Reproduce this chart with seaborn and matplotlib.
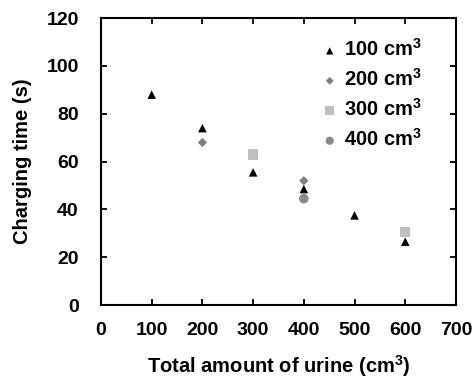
import matplotlib
matplotlib.use("Agg")
import matplotlib.pyplot as plt
import seaborn as sns
import pandas as pd

# Data
series = ["100 cm$^3$", "200 cm$^3$", "300 cm$^3$", "400 cm$^3$"]
x_100 = [100, 200, 300, 400, 500, 600]
y_100 = [88, 74, 55.5, 48.5, 37.5, 26.5]
x_200 = [200, 400]
y_200 = [68, 52]
x_300 = [300, 600]
y_300 = [63, 30.5]
x_400 = [400]
y_400 = [44.5]

xs = [x_100, x_200, x_300, x_400]
ys = [y_100, y_200, y_300, y_400]
rows = []
for name, xv, yv in zip(series, xs, ys):
    for a, b in zip(xv, yv):
        rows.append({"x": a, "y": b, "series": name})
df = pd.DataFrame(rows)

sns.set_style("ticks")
plt.rcParams["font.family"] = ["Liberation Sans", "DejaVu Sans"]
plt.rcParams["font.weight"] = "bold"
plt.rcParams["mathtext.fontset"] = "custom"
plt.rcParams["mathtext.rm"] = "Liberation Sans:bold"
plt.rcParams["mathtext.it"] = "Liberation Sans:bold"
plt.rcParams["mathtext.bf"] = "Liberation Sans:bold"
plt.rcParams["text.color"] = "black"
plt.rcParams["axes.labelcolor"] = "black"

fig = plt.figure(figsize=(4.73, 3.78), dpi=100)
ax = fig.add_axes([0.2135, 0.193, 0.7505, 0.759])

palette = {series[0]: "#000000", series[1]: "#7f7f7f", series[2]: "#bfbfbf", series[3]: "#8a8a8a"}
markers = {series[0]: "^", series[1]: "D", series[2]: "s", series[3]: "o"}
sizes = {series[0]: 38, series[1]: 22, series[2]: 55, series[3]: 48}

for name in series:
    sub = df[df["series"] == name]
    sns.scatterplot(data=sub, x="x", y="y", ax=ax, color=palette[name], marker=markers[name],
                    s=sizes[name], edgecolor="none", label=name, linewidth=0)

ax.set_xlim(0, 700)
ax.set_ylim(0, 120)
ax.set_xticks(range(0, 701, 100))
ax.set_yticks(range(0, 121, 20))
ax.tick_params(direction="in", length=4, width=1.3, top=True, right=True,
               labelsize=14, colors="black")
ax.tick_params(axis="y", pad=16)
ax.tick_params(axis="x", pad=12)
for lbl in ax.get_xticklabels() + ax.get_yticklabels():
    lbl.set_fontweight("bold")
for sp in ax.spines.values():
    sp.set_linewidth(1.5)
    sp.set_color("black")

ax.set_xlabel("Total amount of urine (cm$^3$)", fontsize=14.5, fontweight="bold", labelpad=10)
ax.set_ylabel("Charging time (s)", fontsize=14.5, fontweight="bold", labelpad=10)

leg = ax.legend(loc="upper right", frameon=False, handletextpad=0.4, handlelength=0.6,
                labelspacing=0.4, borderaxespad=0.6, markerscale=0.85,
                bbox_to_anchor=(0.96, 1.0),
                prop={"weight": "bold", "size": 14.5})

fig.savefig("out.png", dpi=100)
